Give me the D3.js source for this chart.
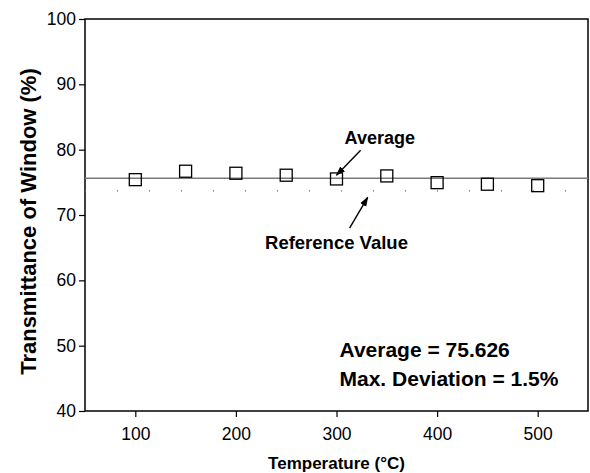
<!DOCTYPE html>
<html>
<head>
<meta charset="utf-8">
<script src="https://cdn.jsdelivr.net/npm/d3@7"></script>
<style>
  html, body { margin: 0; padding: 0; background: #fff; }
  svg { display: block; font-family: "Liberation Sans", Arial, sans-serif; }
</style>
</head>
<body>
<svg id="chart" width="590" height="473"></svg>
<script>
// Window transmittance measured at each temperature
const temperatures = [100, 150, 200, 250, 300, 350, 400, 450, 500];
const transmittance = [75.41, 76.70, 76.39, 76.09, 75.52, 75.98, 74.95, 74.71, 74.49];
const averageValue = 75.626;
const referenceValue = 73.7;
const xTicks = [100, 200, 300, 400, 500];
const yTicks = [40, 50, 60, 70, 80, 90, 100];

const svg = d3.select("#chart");
const margin = { left: 85, right: 2, top: 19, bottom: 62 };
const W = 590, H = 473;

const x = d3.scaleLinear().domain([50, 550]).range([margin.left, W - margin.right]);
const y = d3.scaleLinear().domain([40, 100]).range([H - margin.bottom, margin.top]);

// frame
svg.append("rect")
  .attr("x", x(50)).attr("y", y(100))
  .attr("width", x(550) - x(50)).attr("height", y(40) - y(100))
  .attr("fill", "none").attr("stroke", "#000").attr("stroke-width", 1.5);

// axes
const xAxis = svg.append("g")
  .attr("transform", `translate(0,${y(40)})`)
  .call(d3.axisBottom(x).tickValues(xTicks).tickSize(6).tickPadding(11).tickFormat(d3.format("d")));
const yAxis = svg.append("g")
  .attr("transform", `translate(${x(50)},0)`)
  .call(d3.axisLeft(y).tickValues(yTicks).tickSize(6).tickPadding(3).tickFormat(d3.format("d")));
[xAxis, yAxis].forEach(g => {
  g.select(".domain").remove();
  g.selectAll(".tick line").attr("stroke", "#000").attr("stroke-width", 1.2);
  g.selectAll(".tick text").attr("fill", "#000")
    .style("font-size", "17.5px").style("font-family", "Liberation Sans, Arial, sans-serif");
});

// axis titles
svg.append("text")
  .attr("x", x(300)).attr("y", 469)
  .attr("text-anchor", "middle")
  .style("font-size", "17px").style("font-weight", "bold")
  .text("Temperature (°C)");
svg.append("text")
  .attr("transform", `translate(36,${y(69)}) rotate(-90)`)
  .attr("text-anchor", "middle")
  .style("font-size", "22px").style("font-weight", "bold")
  .text("Transmittance of Window (%)");

// reference value: sparse dotted line
svg.append("line")
  .attr("x1", x(50)).attr("x2", x(550))
  .attr("y1", y(referenceValue)).attr("y2", y(referenceValue))
  .attr("stroke", "#666").attr("stroke-width", 1.2)
  .attr("stroke-dasharray", "1,31");

// average line
svg.append("line")
  .attr("x1", x(50)).attr("x2", x(550))
  .attr("y1", y(averageValue)).attr("y2", y(averageValue))
  .attr("stroke", "#7a7a7a").attr("stroke-width", 1.3);

// data markers: open squares
const s = 12;
svg.append("g").selectAll("rect")
  .data(temperatures.map((t, i) => [t, transmittance[i]]))
  .join("rect")
  .attr("x", d => x(d[0]) - s / 2)
  .attr("y", d => y(d[1]) - s / 2)
  .attr("width", s).attr("height", s)
  .attr("fill", "none").attr("stroke", "#000").attr("stroke-width", 1.3);

// arrowhead
svg.append("defs").append("marker")
  .attr("id", "head").attr("viewBox", "0 0 10 10")
  .attr("refX", 9).attr("refY", 5)
  .attr("markerWidth", 7).attr("markerHeight", 7)
  .attr("orient", "auto")
  .append("path").attr("d", "M0,1.5 L10,5 L0,8.5 Z").attr("fill", "#000");

// annotation: Average
svg.append("text")
  .attr("x", x(343)).attr("y", y(80.9))
  .attr("text-anchor", "middle")
  .style("font-size", "18px").style("font-weight", "bold")
  .text("Average");
svg.append("line")
  .attr("x1", x(324)).attr("y1", y(79.9))
  .attr("x2", x(300)).attr("y2", y(76.1))
  .attr("stroke", "#000").attr("stroke-width", 1.4)
  .attr("marker-end", "url(#head)");

// annotation: Reference Value
svg.append("text")
  .attr("x", x(300)).attr("y", y(64.8))
  .attr("text-anchor", "middle")
  .style("font-size", "18.5px").style("font-weight", "bold")
  .text("Reference Value");
svg.append("line")
  .attr("x1", x(313)).attr("y1", y(68.0))
  .attr("x2", x(331)).attr("y2", y(72.7))
  .attr("stroke", "#000").attr("stroke-width", 1.4)
  .attr("marker-end", "url(#head)");

// summary text
svg.append("text")
  .attr("x", x(303)).attr("y", y(48.2))
  .style("font-size", "21px").style("font-weight", "bold")
  .text(`Average = ${averageValue}`);
svg.append("text")
  .attr("x", x(303)).attr("y", y(43.9))
  .style("font-size", "21px").style("font-weight", "bold")
  .text("Max. Deviation = 1.5%");
</script>
</body>
</html>
